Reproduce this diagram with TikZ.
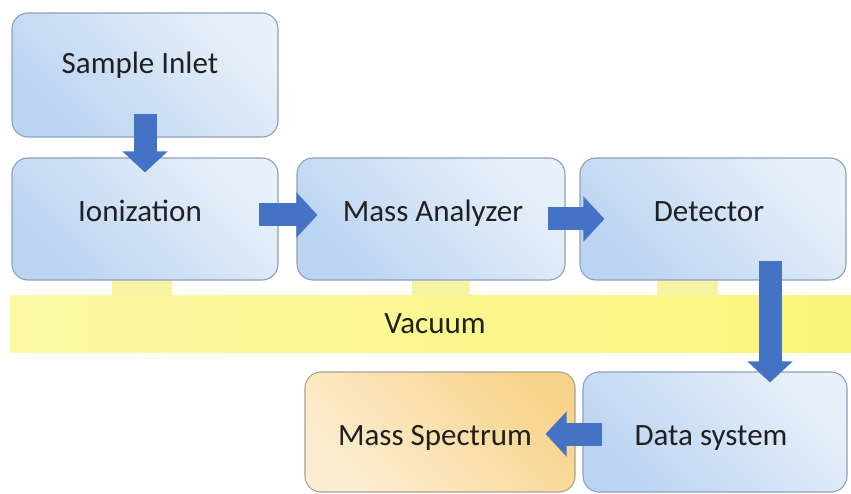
\documentclass[tikz,border=0pt]{standalone}
\usepackage{fontspec}
\setmainfont{Carlito}
\usetikzlibrary{arrows.meta}
\definecolor{boxdark}{HTML}{BBD4F2}
\definecolor{boxlight}{HTML}{E8F0FA}
\definecolor{boxline}{HTML}{8DA1BB}
\definecolor{orgdark}{HTML}{F8D48A}
\definecolor{orglight}{HTML}{FCEDD2}
\definecolor{orgline}{HTML}{A9A292}
\definecolor{arrowblue}{HTML}{4472C4}
\definecolor{vacL}{HTML}{FCF9A6}
\definecolor{vacR}{HTML}{FBF47A}
\definecolor{peg}{HTML}{F6F3A2}
\definecolor{txt}{HTML}{202020}
\tikzset{
  bluebox/.style={draw=boxline, line width=1.1pt, rounded corners=16pt,
    top color=boxlight, bottom color=boxdark, shading angle=-45,
    minimum width=#1, minimum height=122pt, inner sep=0pt},
  orangebox/.style={draw=orgline, line width=1.1pt, rounded corners=16pt,
    top color=orgdark, bottom color=orglight, shading angle=-45,
    minimum width=#1, minimum height=120pt, inner sep=0pt},
  vacbar/.style={left color=vacL, right color=vacR, minimum width=841pt,
    minimum height=57pt, inner sep=0pt},
  pegbox/.style={fill=peg, minimum height=16pt, minimum width=#1, inner sep=0pt},
  lbl/.style={anchor=base, text=txt, font=\fontsize{31}{31}\selectfont, inner sep=0pt},
  blockarrow/.style={draw=arrowblue, line width=23pt,
    -{Triangle[width=44pt,length=21pt]}}
}
\begin{document}
\begin{tikzpicture}[x=1pt,y=-1pt]
\useasboundingbox[fill=white] (0,0) rectangle (851,494);
% vacuum bar and pegs
\node[vacbar] (vac) at (430.5,323.5) {};
\node[pegbox=60pt] (p1) at (142,288) {};
\node[pegbox=58pt] (p2) at (441,288) {};
\node[pegbox=61pt] (p3) at (687.5,288) {};
% boxes
\node[bluebox=266pt, minimum height=124pt] (si) at (145,75) {};
\node[bluebox=266pt] (ion) at (145,219) {};
\node[bluebox=268pt] (ma) at (431,219) {};
\node[bluebox=266pt] (det) at (713,219) {};
\node[orangebox=270pt] (ms) at (440,432) {};
\node[bluebox=264pt, minimum height=120pt] (ds) at (715,432) {};
% labels
\node[lbl] (tsi) at (140,74) {Sample Inlet};
\node[lbl] (tion) at (140,222) {Ionization};
\node[lbl] (tma) at (433,222) {Mass Analyzer};
\node[lbl] (tdet) at (709,222) {Detector};
\node[lbl] (tvac) at (435,333) {Vacuum};
\node[lbl] (tms) at (435,445) {Mass Spectrum};
\node[lbl] (tds) at (711,445) {Data system};
% arrows
\draw[blockarrow] ([yshift=24pt]si.south) -- ([yshift=-15pt]ion.north);
\draw[blockarrow] ([shift={(-20pt,4pt)}]ion.east) -- ([shift={(21pt,4pt)}]ma.west);
\draw[blockarrow] ([shift={(-18pt,0pt)}]ma.east) -- ([shift={(25pt,0pt)}]det.west);
\draw[blockarrow] ([shift={(57pt,20pt)}]det.south) -- ([shift={(55pt,-11pt)}]ds.north);
\draw[blockarrow] ([shift={(20pt,-2pt)}]ds.west) -- ([shift={(-30pt,-2pt)}]ms.east);
\end{tikzpicture}
\end{document}
